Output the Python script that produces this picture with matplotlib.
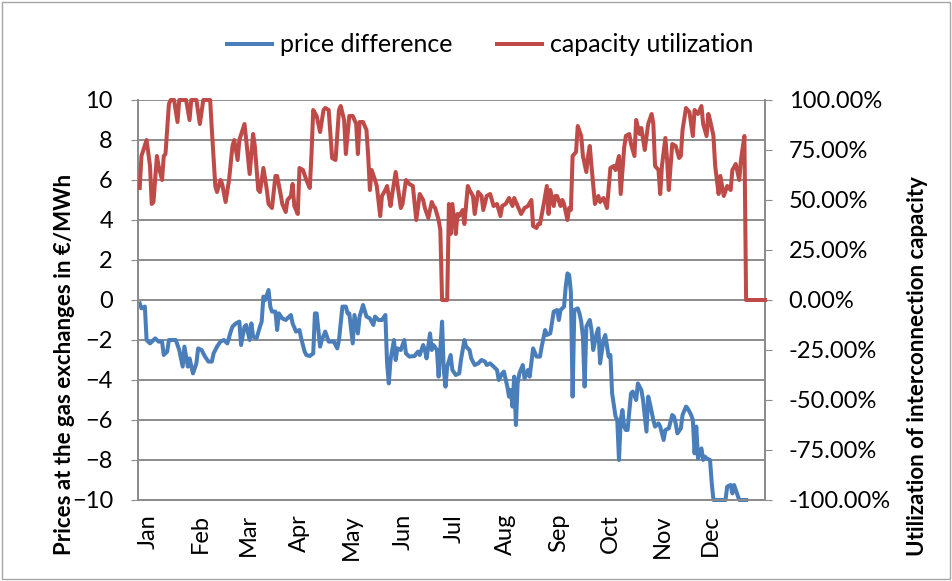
import matplotlib
matplotlib.use("Agg")
import matplotlib.pyplot as plt
from matplotlib.patches import Rectangle
from matplotlib.ticker import FuncFormatter, MultipleLocator

BLUE = "#4A7EBB"
RED = "#BE4B48"
GRID = "#8C8C8C"

months = ["Jan", "Feb", "Mar", "Apr", "May", "Jun", "Jul", "Aug", "Sep", "Oct", "Nov", "Dec"]
# label positions (day of year on the plotted scale)
month_tick_day = [0, 30, 58, 88, 118, 148, 178, 208, 239, 269, 299, 327]

# price difference (EUR/MWh), day of year
price_day = [1, 2, 4, 5, 7, 9, 10, 12, 14, 15, 17, 18, 20, 22, 24, 26, 27, 29, 30, 32,
             34, 35, 37, 39, 41, 43, 44, 46, 48, 50, 52, 54, 55, 57, 59, 60, 62, 63, 65, 66,
             67, 69, 71, 72, 73, 74, 76, 77, 78, 80, 81, 82, 84, 86, 88, 89, 90, 92, 94, 95,
             97, 98, 100, 102, 103, 104, 106, 107, 109, 111, 114, 116, 117, 119, 121, 122, 123, 125, 126, 128,
             129, 131, 133, 135, 137, 138, 140, 142, 144, 145, 146, 147, 149, 150, 151, 153, 155, 156, 158, 161,
             163, 164, 166, 167, 168, 170, 171, 172, 174, 175, 177, 178, 179, 180, 182, 183, 185, 187, 188, 190,
             191, 193, 194, 196, 198, 200, 202, 203, 205, 207, 209, 210, 212, 213, 215, 216, 217, 218, 219, 220,
             221, 222, 224, 225, 227, 228, 230, 232, 234, 235, 237, 238, 240, 242, 244, 245, 246, 248, 249, 250,
             251, 252, 253, 254, 256, 257, 258, 259, 260, 261, 263, 264, 265, 267, 268, 269, 271, 272, 274, 275,
             276, 278, 279, 280, 281, 282, 283, 284, 285, 287, 288, 290, 291, 293, 294, 296, 297, 298, 300, 301,
             303, 304, 306, 307, 309, 311, 312, 313, 314, 316, 317, 319, 320, 322, 323, 324, 325, 326, 328, 329,
             330, 331, 333, 334, 335, 337, 340, 342, 343, 345, 346, 347, 349, 350, 354]
price_diff = [-0.17, -0.42, -0.33, -2.0, -2.17, -2.0, -1.92, -2.08, -2.08, -2.75, -2.58, -2.0, -2.0, -2.0, -2.5, -3.33, -2.33, -3.33, -2.92, -3.67,
              -3.17, -2.42, -2.5, -2.83, -3.08, -3.08, -2.67, -2.33, -2.08, -2.0, -2.17, -1.58, -1.33, -1.17, -1.08, -2.25, -1.33, -1.25, -2.0, -1.17,
              -1.83, -1.92, -1.33, -1.08, 0.17, 0.0, 0.5, -0.33, -0.58, -0.58, -1.5, -0.67, -0.92, -1.0, -0.83, -0.75, -1.17, -1.58, -1.5, -1.92,
              -2.58, -2.75, -2.8, -2.67, -0.67, -0.67, -2.33, -2.0, -1.58, -2.08, -2.08, -2.42, -2.0, -0.33, -0.33, -0.67, -0.67, -2.17, -0.75, -1.67,
              -0.83, -0.25, -0.83, -0.92, -1.25, -0.83, -1.0, -1.0, -0.75, -3.17, -4.17, -3.0, -2.0, -3.0, -2.42, -2.5, -2.0, -2.67, -2.83, -2.8,
              -2.58, -2.75, -2.25, -2.5, -2.92, -1.67, -2.5, -2.25, -2.5, -3.83, -1.08, -3.5, -4.33, -3.33, -2.75, -3.5, -3.75, -3.67, -3.0, -2.0,
              -2.33, -2.5, -2.92, -3.25, -3.17, -3.0, -3.08, -3.25, -3.17, -3.33, -3.5, -4.0, -3.67, -3.58, -4.33, -4.83, -4.5, -5.33, -3.83, -6.25,
              -4.17, -3.67, -3.25, -3.92, -3.5, -3.83, -2.42, -2.83, -2.83, -2.33, -1.5, -1.75, -1.67, -0.58, -0.5, -1.0, -0.5, -0.33, 0.67, 1.33,
              1.25, 0.38, -4.83, -0.5, -0.42, -0.67, -1.08, -1.83, -4.33, -1.33, -1.0, -1.5, -2.5, -1.67, -1.42, -3.17, -2.0, -1.75, -2.83, -2.75,
              -4.67, -5.83, -6.0, -8.0, -6.0, -5.5, -6.33, -6.5, -6.5, -4.67, -4.58, -5.0, -4.17, -4.5, -5.0, -6.58, -4.83, -5.17, -6.0, -6.33,
              -6.17, -6.33, -7.0, -6.5, -6.42, -5.75, -5.83, -6.17, -6.67, -6.42, -5.75, -5.33, -5.42, -5.75, -6.0, -7.67, -6.33, -7.92, -7.42, -8.0,
              -7.83, -7.92, -8.0, -9.17, -10.0, -10.0, -10.0, -10.0, -9.33, -9.25, -9.67, -9.25, -9.75, -10.0, -10.0]

# interconnection capacity utilization (%), day of year
util_day = [1, 2, 5, 7, 8, 9, 11, 12, 14, 15, 16, 18, 19, 21, 23, 24, 26, 28, 30, 31,
            34, 36, 38, 42, 43, 45, 46, 48, 49, 51, 53, 55, 56, 58, 59, 62, 63, 65, 67, 68,
            70, 71, 73, 75, 76, 78, 80, 81, 83, 84, 86, 87, 89, 90, 91, 93, 94, 96, 98, 100,
            101, 102, 104, 106, 108, 109, 111, 113, 115, 117, 118, 120, 121, 123, 125, 127, 128, 129, 131, 133,
            134, 135, 136, 138, 139, 141, 142, 144, 145, 147, 148, 150, 151, 153, 154, 156, 158, 160, 162, 164,
            166, 167, 169, 171, 172, 173, 175, 176, 177, 180, 181, 182, 183, 185, 186, 187, 189, 190, 192, 193,
            195, 196, 198, 200, 201, 203, 205, 207, 209, 211, 212, 214, 216, 218, 219, 221, 223, 225, 227, 229,
            230, 232, 233, 234, 236, 238, 239, 240, 242, 243, 244, 246, 247, 248, 250, 251, 252, 253, 255, 256,
            258, 259, 261, 262, 263, 264, 266, 268, 269, 271, 273, 275, 277, 278, 280, 281, 283, 284, 286, 287,
            289, 290, 292, 293, 295, 297, 299, 300, 301, 303, 304, 305, 307, 308, 309, 311, 313, 315, 316, 317,
            319, 321, 323, 324, 326, 328, 329, 331, 332, 333, 335, 336, 338, 339, 341, 343, 345, 346, 348, 350,
            351, 353, 354, 365]
util_pct = [56, 72, 80, 67, 48, 49, 72, 67, 60, 72, 73, 98, 100, 100, 89, 100, 100, 100, 90, 100,
            100, 88, 100, 100, 85, 57, 54, 60, 58, 49, 60, 77, 80, 70, 80, 88, 80, 63, 83, 77,
            55, 54, 66, 55, 48, 46, 62, 62, 53, 48, 44, 50, 52, 58, 47, 43, 66, 65, 60, 56,
            73, 95, 92, 84, 95, 96, 95, 71, 70, 95, 97, 90, 73, 92, 92, 88, 73, 89, 89, 85,
            72, 55, 65, 60, 57, 42, 52, 55, 57, 47, 53, 64, 58, 46, 48, 60, 58, 57, 40, 53,
            50, 46, 41, 49, 47, 46, 40, 35, 0, 0, 48, 33, 48, 33, 43, 42, 45, 38, 57, 55,
            52, 43, 54, 52, 45, 52, 53, 47, 48, 42, 47, 48, 51, 47, 51, 47, 43, 46, 47, 50,
            37, 36, 38, 38, 47, 57, 43, 55, 47, 52, 52, 47, 50, 48, 40, 46, 45, 72, 74, 87,
            82, 72, 64, 72, 77, 67, 48, 52, 49, 51, 46, 66, 67, 65, 72, 53, 76, 82, 83, 78,
            72, 90, 83, 86, 75, 88, 93, 88, 67, 65, 53, 67, 81, 70, 55, 78, 77, 71, 72, 85,
            96, 94, 82, 95, 93, 97, 88, 82, 93, 90, 82, 67, 53, 62, 52, 57, 55, 65, 68, 60,
            70, 82, 0, 0]

plt.rcParams.update({
    "font.family": ["Lato", "DejaVu Sans"],
    "font.size": 17,
})

fig = plt.figure(figsize=(9.52, 5.81), dpi=100)
ax = fig.add_axes([138 / 952, 1 - 500 / 581, 627 / 952, 400 / 581])
ax2 = ax.twinx()

ax.plot(price_day, price_diff, color=BLUE, lw=2.9, clip_on=False, label="price difference",
        zorder=3, solid_joinstyle="round")
ax2.plot(util_day, [v / 100 for v in util_pct], color=RED, lw=2.9, clip_on=False,
         label="capacity utilization", zorder=3, solid_joinstyle="round")

ax.set_xlim(0, 365)
ax.set_ylim(-10, 10)
ax2.set_ylim(-1, 1)

ax.yaxis.set_major_locator(MultipleLocator(2))
ax2.yaxis.set_major_locator(MultipleLocator(0.25))
ax2.yaxis.set_major_formatter(FuncFormatter(lambda v, _: f"{v * 100:.2f}%"))
ax.grid(axis="y", color=GRID, lw=1.4)
ax.set_axisbelow(True)

ax.set_xticks(month_tick_day)
ax.set_xticklabels(months, rotation=90, va="top", ha="left")
ax.tick_params(axis="x", length=0, pad=10, labelsize=17)
ax.tick_params(axis="y", length=5, color=GRID, pad=13, labelsize=17)
ax2.tick_params(axis="y", length=5, color=GRID, pad=12, labelsize=17)

for a in (ax, ax2):
    a.spines["top"].set_visible(False)
    for side in ("left", "right", "bottom"):
        a.spines[side].set_color(GRID)
        a.spines[side].set_linewidth(1.4)

ax.set_ylabel("Prices at the gas exchanges in €/MWh", fontweight="bold", fontsize=16)
ax.yaxis.set_label_coords(-0.100, 0.34)
ax2.set_ylabel("Utilization of interconnection capacity", fontweight="bold", fontsize=16)
ax2.yaxis.set_label_coords(1.227, 0.335)

handles = ax.get_lines() + ax2.get_lines()
fig.legend(handles, [h.get_label() for h in handles], loc="center", ncol=2,
           bbox_to_anchor=(490 / 952, 1 - 45 / 581), frameon=False, fontsize=18,
           handlelength=1.8, handletextpad=0.3, columnspacing=1.8)

fig.add_artist(Rectangle((0.002, 0.003), 0.996, 0.994, transform=fig.transFigure,
                         fill=False, edgecolor="#A6A6A6", lw=1.0))

fig.savefig("out.png", dpi=100)
